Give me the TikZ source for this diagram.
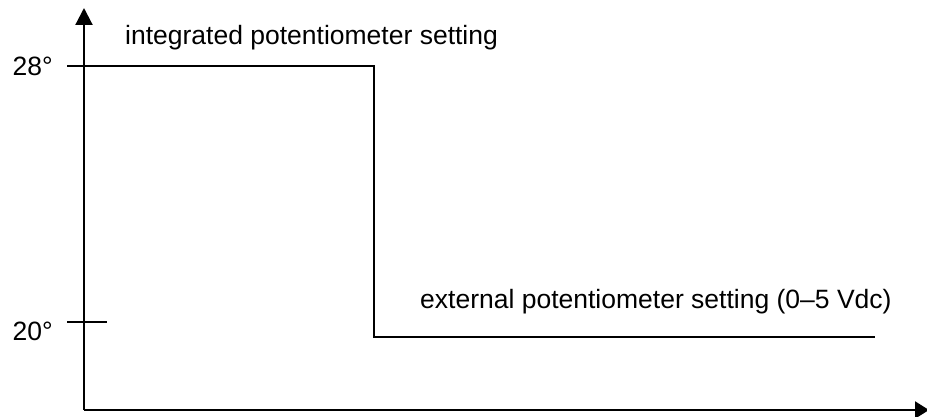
\documentclass[tikz,border=0pt]{standalone}
\usepackage{fontspec}
\setmainfont{Liberation Sans}
\usetikzlibrary{arrows.meta}
\begin{document}
\begin{tikzpicture}
	[
		x=1pt, y=1pt,
		axis/.style={line width=2.2pt, -{Triangle[length=17pt, width=17pt]}},
		level/.style={line width=2.2pt},
		lbl/.style={inner sep=0pt, font=\fontsize{26.5}{30}\selectfont},
	]
	\useasboundingbox (0,0) rectangle (927,416);

	% Axes
	\coordinate (o) at (84,6);
	\coordinate (ytop) at (84,408);
	\coordinate (xend) at (929,6);
	\draw[axis] (o) -- (ytop);
	\draw[axis, -{Triangle[length=14pt, width=17pt]}] (o) -- (xend);

	% Ticks and their labels
	\foreach \name/\y/\base/\text in
	{
		hi/350/340/28°,
		lo/94/76/20°
	}
	{
		\coordinate (t\name) at (67,\y);
		\coordinate (u\name) at (107,\y);
		\draw[level] (t\name) -- (u\name);
		\node[lbl, anchor=base east] (l\name) at (53,\base) {\text};
	}

	% Setting curve
	\coordinate (a) at (84,350);
	\coordinate (b) at (374,350);
	\coordinate (c) at (374,79);
	\coordinate (d) at (875,79);
	\draw[level] (a) -- (b) -- (c) -- (d);

	% Texts
	\node[lbl, anchor=base west] (int) at (125,371) {integrated potentiometer setting};
	\node[lbl, anchor=base west] (ext) at (420,108) {external potentiometer setting (0–5 Vdc)};

\end{tikzpicture}
\end{document}
